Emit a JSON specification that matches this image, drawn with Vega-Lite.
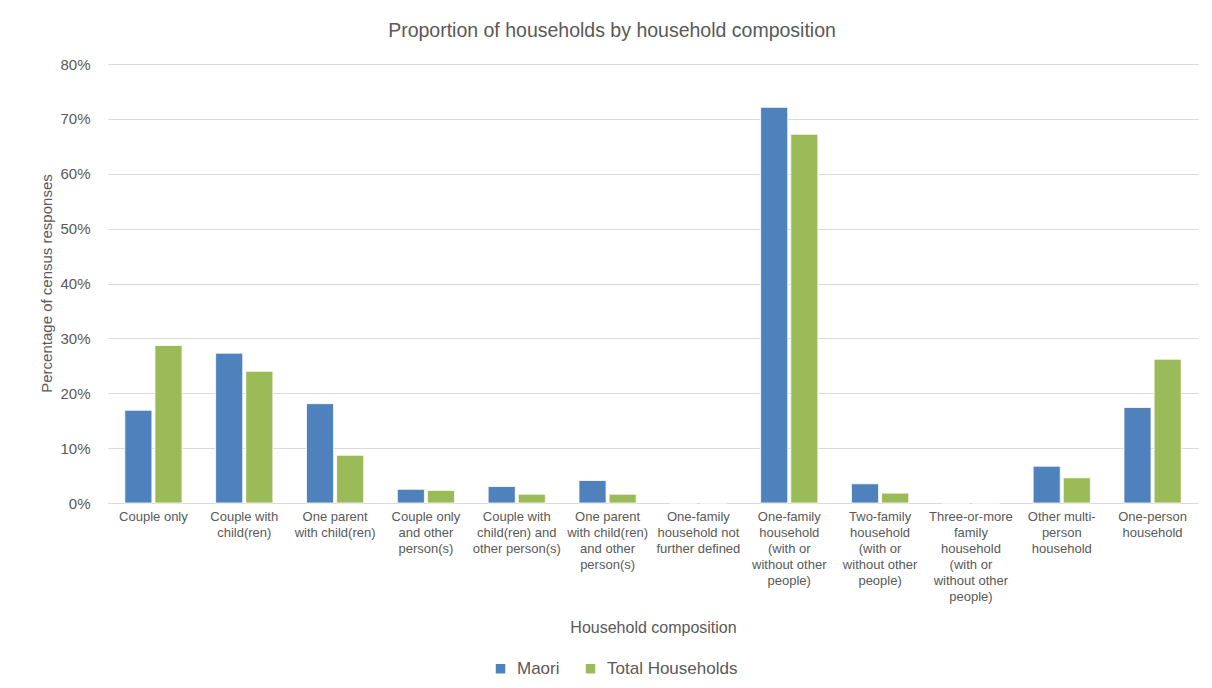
{
  "$schema": "https://vega.github.io/schema/vega-lite/v6.json",
  "width": 1090,
  "height": 439,
  "autosize": {"type": "none"},
  "padding": {"left": 108, "top": 64, "right": 14, "bottom": 185},
  "background": "white",
  "title": {"text": "Proportion of households by household composition", "fontSize": 19.5, "font": "Liberation Sans", "fontWeight": "normal", "color": "#595959", "anchor": "middle", "dx": -41, "offset": 16},
  "data": {"values": [
    {"category": "Couple only", "series": "Maori", "value": 16.9},
    {"category": "Couple only", "series": "Total Households", "value": 28.7},
    {"category": "Couple with\nchild(ren)", "series": "Maori", "value": 27.3},
    {"category": "Couple with\nchild(ren)", "series": "Total Households", "value": 24.0},
    {"category": "One parent\nwith child(ren)", "series": "Maori", "value": 18.1},
    {"category": "One parent\nwith child(ren)", "series": "Total Households", "value": 8.7},
    {"category": "Couple only\nand other\nperson(s)", "series": "Maori", "value": 2.5},
    {"category": "Couple only\nand other\nperson(s)", "series": "Total Households", "value": 2.3},
    {"category": "Couple with\nchild(ren) and\nother person(s)", "series": "Maori", "value": 3.0},
    {"category": "Couple with\nchild(ren) and\nother person(s)", "series": "Total Households", "value": 1.6},
    {"category": "One parent\nwith child(ren)\nand other\nperson(s)", "series": "Maori", "value": 4.1},
    {"category": "One parent\nwith child(ren)\nand other\nperson(s)", "series": "Total Households", "value": 1.6},
    {"category": "One-family\nhousehold not\nfurther defined", "series": "Maori", "value": 0},
    {"category": "One-family\nhousehold not\nfurther defined", "series": "Total Households", "value": 0},
    {"category": "One-family\nhousehold\n(with or\nwithout other\npeople)", "series": "Maori", "value": 72.1},
    {"category": "One-family\nhousehold\n(with or\nwithout other\npeople)", "series": "Total Households", "value": 67.2},
    {"category": "Two-family\nhousehold\n(with or\nwithout other\npeople)", "series": "Maori", "value": 3.5},
    {"category": "Two-family\nhousehold\n(with or\nwithout other\npeople)", "series": "Total Households", "value": 1.8},
    {"category": "Three-or-more\nfamily\nhousehold\n(with or\nwithout other\npeople)", "series": "Maori", "value": 0},
    {"category": "Three-or-more\nfamily\nhousehold\n(with or\nwithout other\npeople)", "series": "Total Households", "value": 0},
    {"category": "Other multi-\nperson\nhousehold", "series": "Maori", "value": 6.7},
    {"category": "Other multi-\nperson\nhousehold", "series": "Total Households", "value": 4.6},
    {"category": "One-person\nhousehold", "series": "Maori", "value": 17.4},
    {"category": "One-person\nhousehold", "series": "Total Households", "value": 26.2}
  ]},
  "mark": {"type": "bar", "stroke": "white", "strokeWidth": 0.8},
  "encoding": {
    "x": {
      "field": "category", "type": "nominal", "sort": null,
      "scale": {"paddingInner": 0.37, "paddingOuter": 0.185},
      "axis": {
        "title": "Household composition", "titleFont": "Liberation Sans", "titleFontSize": 16, "titleFontWeight": "normal", "titleColor": "#595959",
        "titleY": 124, "titleBaseline": "middle",
        "labelExpr": "split(datum.value, '\\n')",
        "labelAngle": 0, "labelFont": "Liberation Sans", "labelFontSize": 13, "labelColor": "#595959", "labelLineHeight": 16,
        "labelPadding": 7, "ticks": false, "domainColor": "#D9D9D9", "domainWidth": 1, "labelBaseline": "top"
      }
    },
    "xOffset": {"field": "series", "type": "nominal", "scale": {"paddingInner": 0.1}},
    "y": {
      "field": "value", "type": "quantitative",
      "scale": {"domain": [0, 80]},
      "axis": {
        "title": "Percentage of census responses", "titleFont": "Liberation Sans", "titleFontSize": 15, "titleFontWeight": "normal", "titleColor": "#595959",
        "titleX": -62, "titleY": 219, "titleAnchor": "middle", "titleBaseline": "middle",
        "values": [0, 10, 20, 30, 40, 50, 60, 70, 80],
        "labelExpr": "datum.value + '%'",
        "labelFont": "Liberation Sans", "labelFontSize": 15, "labelColor": "#595959", "labelPadding": 18,
        "ticks": false, "domain": false, "gridColor": "#D9D9D9", "gridWidth": 1
      }
    },
    "color": {
      "field": "series", "type": "nominal",
      "scale": {"domain": ["Maori", "Total Households"], "range": ["#4F81BD", "#9BBB59"]},
      "legend": {
        "title": null, "orient": "none", "direction": "horizontal", "legendX": 384, "legendY": 596,
        "symbolType": "square", "symbolSize": 90, "symbolStrokeWidth": 0,
        "labelFont": "Liberation Sans", "labelFontSize": 17, "labelColor": "#595959", "columnPadding": 22, "labelOffset": 8
      }
    }
  },
  "config": {"view": {"stroke": null}}
}
